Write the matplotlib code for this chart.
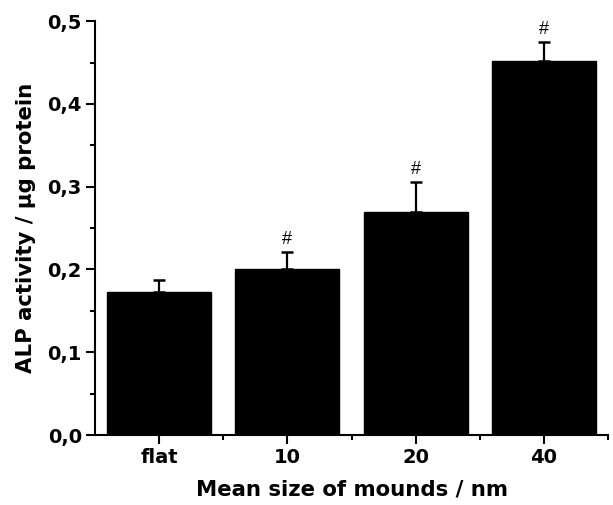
import matplotlib
matplotlib.use("Agg")
import matplotlib.pyplot as plt
from matplotlib.ticker import MultipleLocator, FixedLocator, FuncFormatter

categories = ["flat", "10", "20", "40"]
alp_activity = [0.173, 0.201, 0.269, 0.452]
alp_error = [0.014, 0.020, 0.037, 0.023]
significance = ["", "#", "#", "#"]

plt.rcParams["font.family"] = ["DejaVu Sans"]

fig = plt.figure(figsize=(6.13, 5.05), dpi=100)
ax = fig.add_axes([0.155, 0.1386, 0.837, 0.8194])

x = list(range(len(categories)))
ax.bar(x, alp_activity, width=0.81, color="black", edgecolor="black", zorder=2)
ax.errorbar(x, alp_activity, yerr=[[0] * len(x), alp_error], fmt="none",
            ecolor="black", elinewidth=1.6, capsize=4.5, capthick=1.8, zorder=3)

for xi, v, e, s in zip(x, alp_activity, alp_error, significance):
    if s:
        ax.annotate(s, (xi, v + e), xytext=(0, 3), textcoords="offset points",
                    ha="center", va="bottom", fontsize=13,
                    family="Liberation Sans", fontweight="normal")

ax.set_xlim(-0.5, 3.5)
ax.set_ylim(0, 0.5)
ax.set_xticks(x)
ax.set_xticklabels(categories)
ax.xaxis.set_minor_locator(FixedLocator([0.5, 1.5, 2.5, 3.5]))
ax.yaxis.set_major_locator(MultipleLocator(0.1))
ax.yaxis.set_minor_locator(MultipleLocator(0.05))
ax.yaxis.set_major_formatter(FuncFormatter(lambda v, p: f"{v:.1f}".replace(".", ",")))

for side in ("top", "right"):
    ax.spines[side].set_visible(False)
for side in ("left", "bottom"):
    ax.spines[side].set_linewidth(1.5)

ax.tick_params(which="major", direction="out", length=6.5, width=1.5,
               labelsize=14, pad=3)
ax.tick_params(which="minor", direction="out", length=3.5, width=1.5)
for lbl in ax.get_xticklabels() + ax.get_yticklabels():
    lbl.set_fontweight("bold")

ax.set_xlabel("Mean size of mounds / nm", fontsize=15.3, fontweight="bold", labelpad=9)
ax.set_ylabel("ALP activity / \u03bcg protein", fontsize=15.3, fontweight="bold", labelpad=8)

fig.savefig("out.png", dpi=100)
